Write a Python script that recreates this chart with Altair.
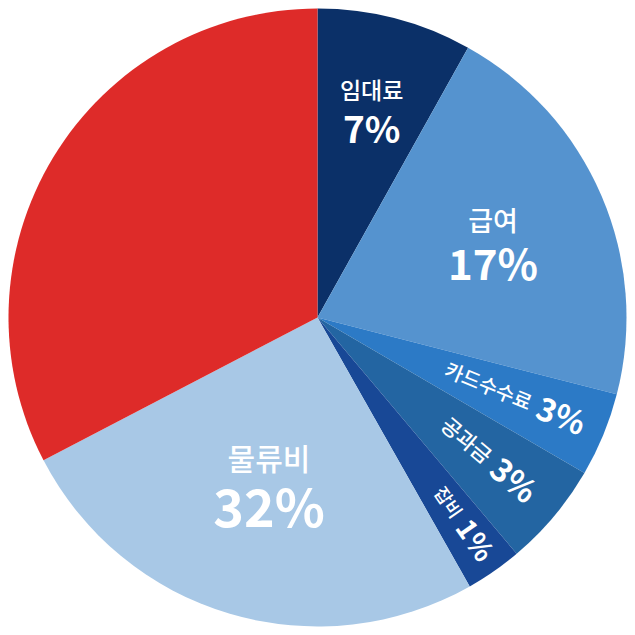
import altair as alt
import pandas as pd

# ---- data ----
categories = ["임대료", "급여", "카드수수료", "공과금", "잡비", "물류비", "기타"]
values = [8.1, 20.9, 4.4, 5.45, 2.95, 25.55, 32.65]
pct_labels = ["7%", "17%", "3%", "3%", "1%", "32%", ""]
colors = ["#0b3068", "#5593cf", "#2c7ac6", "#2365a2", "#184896", "#a8c8e6", "#de2b29"]

# ---- label styling ----
label_orient = ["h", "h", "r", "r", "r", "h", "none"]
label_radius = [215, 191, 234, 226, 247, 171, 0]
name_size = [23, 27, 20, 21, 18, 30, 0]
pct_size = [37, 42, 32, 32, 28, 52, 0]

df = pd.DataFrame({
    "cat": categories,
    "value": values,
    "idx": list(range(len(categories))),
    "name_h": [c if o == "h" else "" for c, o in zip(categories, label_orient)],
    "pct_h": [p if o == "h" else "" for p, o in zip(pct_labels, label_orient)],
    "name_r": [c if o == "r" else "" for c, o in zip(categories, label_orient)],
    "pct_r": [p if o == "r" else "" for p, o in zip(pct_labels, label_orient)],
    "isrot": [1 if o == "r" else 0 for o in label_orient],
    "lr": label_radius,
    "ns": name_size,
    "ps": pct_size,
})

FONT = "Noto Sans CJK KR"

arc = alt.Chart(df).mark_arc(outerRadius=309).encode(
    theta=alt.Theta("value:Q", stack=True),
    order=alt.Order("idx:Q"),
    color=alt.Color("cat:N", scale=alt.Scale(domain=categories, range=colors), legend=None),
)

tbase = (
    alt.Chart(df)
    .transform_joinaggregate(total="sum(value)")
    .transform_window(cum="sum(value)", sort=[alt.SortField("idx", order="ascending")], frame=[None, 0])
    .transform_calculate(
        mid="(datum.cum - datum.value / 2) / datum.total * 2 * PI",
    )
    .transform_calculate(
        rot="datum.isrot == 1 ? datum.mid * 180 / PI - 90 : 0",
    )
    .encode(
        theta=alt.Theta("mid:Q", scale=None),
        radius=alt.Radius("lr:Q", scale=None),
    )
)

name_h = tbase.mark_text(font=FONT, color="white", fontWeight=500, align="center", baseline="bottom", dy=-5).encode(
    text="name_h:N",
    size=alt.Size("ns:Q", scale=None),
)

pct_h = tbase.mark_text(font=FONT, color="white", fontWeight="bold", align="center", baseline="top", dy=5).encode(
    text="pct_h:N",
    size=alt.Size("ps:Q", scale=None),
)

name_r = tbase.mark_text(font=FONT, color="white", fontWeight=500, align="right", baseline="middle", dx=-4).encode(
    text="name_r:N",
    size=alt.Size("ns:Q", scale=None),
    angle=alt.Angle("rot:Q", scale=None),
)

pct_r = tbase.mark_text(font=FONT, color="white", fontWeight="bold", align="left", baseline="middle", dx=4).encode(
    text="pct_r:N",
    size=alt.Size("ps:Q", scale=None),
    angle=alt.Angle("rot:Q", scale=None),
)

chart = alt.layer(arc, name_h, pct_h, name_r, pct_r).properties(
    width=619,
    height=619,
    autosize=alt.AutoSizeParams(type="none"),
    padding=0,
).configure_view(stroke=None)

chart.save("out.html", embed_options={"renderer": "svg", "actions": False})
